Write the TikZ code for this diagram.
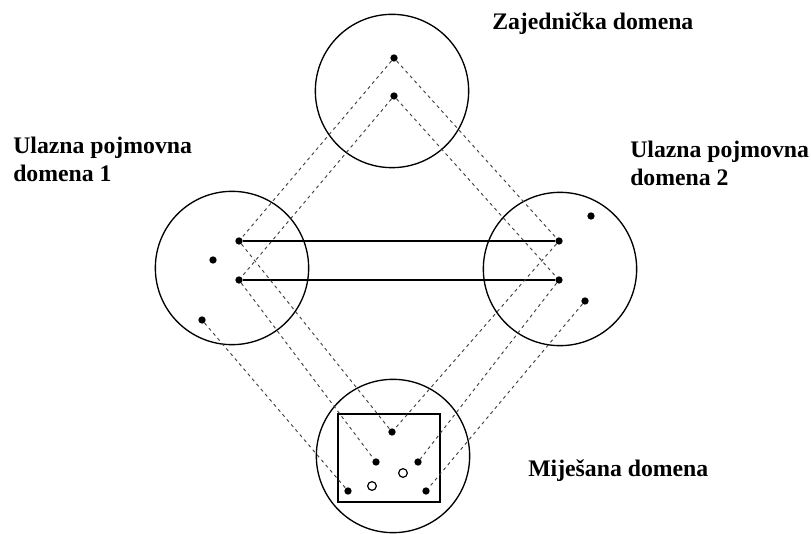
\documentclass[tikz,border=0pt]{standalone}
\usepackage{fontspec}
\setmainfont{Liberation Serif}

\tikzset{
  sphere/.style={circle, draw, line width=1pt, minimum size=115pt, inner sep=0pt},
  spot/.style={circle, fill, inner sep=0pt, minimum size=5.5pt},
  hollow/.style={circle, draw, fill=white, line width=0.9pt, inner sep=0pt, minimum size=6.5pt},
  link/.style={draw=black!75, line width=0.7pt, dash pattern=on 2.4pt off 2.6pt},
  bond/.style={line width=1pt},
  caption/.style={font=\fontsize{17.8}{21}\selectfont\bfseries, anchor=base west, align=left, inner sep=0pt}
}

\begin{document}
\begin{tikzpicture}[x=0.75pt,y=0.75pt,yscale=-1,xscale=1]
	\useasboundingbox (0,0) rectangle (811,534);

	% cetiri domene
	\node [sphere] (gen) at (392,91) {};
	\node [sphere] (in1) at (232,268) {};
	\node [sphere] (in2) at (560,269) {};
	\node [sphere] (blend) at (393,456) {};
	\draw [line width=1.2pt] (338,414) rectangle (440,502);

	% tocke
	\node [spot] (g1) at (394,58) {};
	\node [spot] (g2) at (394,96) {};
	\node [spot] (a1) at (239,241) {};
	\node [spot] (a2) at (239,280) {};
	\node [spot] (a3) at (213,260) {};
	\node [spot] (a4) at (202,320) {};
	\node [spot] (b1) at (559,241) {};
	\node [spot] (b2) at (559,280) {};
	\node [spot] (b3) at (591,216) {};
	\node [spot] (b4) at (585,301) {};
	\node [spot] (m1) at (392,432) {};
	\node [spot] (m2) at (376,462) {};
	\node [spot] (m3) at (418,462) {};
	\node [spot] (m4) at (348,491) {};
	\node [spot] (m5) at (426,491) {};
	\node [hollow] (m6) at (403,473) {};
	\node [hollow] (m7) at (372,486) {};

	% veze
	\draw [bond] (a1) -- (b1);
	\draw [bond] (a2) -- (b2);
	\draw [link] (g1) -- (a1);
	\draw [link] (g1) -- (b1);
	\draw [link] (g2) -- (a2);
	\draw [link] (g2) -- (b2);
	\draw [link] (a1) -- (m1);
	\draw [link] (b1) -- (m1);
	\draw [link] (a2) -- (m2);
	\draw [link] (b2) -- (m3);
	\draw [link] (a4) -- (m4);
	\draw [link] (b4) -- (m5);

	% natpisi
	\node [caption] (tgen) at (492,30) {Zajednička domena};
	\node [caption] (tin1) at (13,182) {Ulazna pojmovna\\domena 1};
	\node [caption] (tin2) at (630,186) {Ulazna pojmovna\\domena 2};
	\node [caption] (tblend) at (528,477) {Miješana domena};
\end{tikzpicture}
\end{document}
